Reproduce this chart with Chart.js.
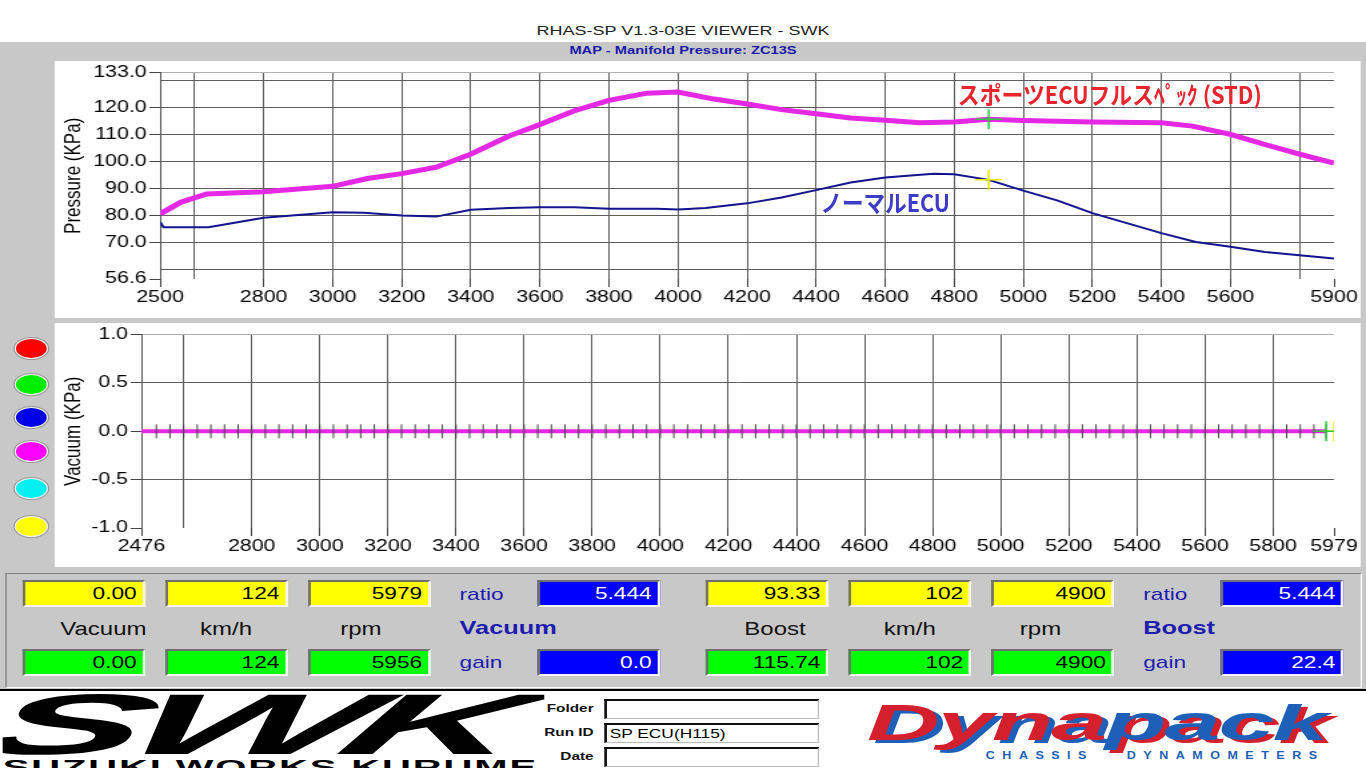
<!DOCTYPE html>
<html>
<head>
<meta charset="utf-8">
<title>RHAS-SP V1.3-03E VIEWER - SWK</title>
<script src="https://cdn.jsdelivr.net/npm/chart.js@4.4.1/dist/chart.umd.min.js"></script>
<style>
html, body { margin:0; padding:0; width:1366px; height:768px; overflow:hidden; background:#fff; }
/* the viewer was a 1024x768 screen stretched to 1366 wide */
#screen { position:absolute; left:0; top:0; width:1024px; height:768px; transform:scaleX(1.333984); transform-origin:0 0;
  font-family:"Liberation Sans", Arial, sans-serif; background:#fff; overflow:hidden; }
.abs { position:absolute; }
#appTitle { left:0; top:23px; width:1024px; text-align:center; font-size:13.5px; color:#222; }
#grayBand { left:0; top:42px; width:1024px; height:648px; background:#c8c8c8; }
#subTitle { left:0; top:44px; width:1024px; text-align:center; font-size:11px; font-weight:bold; color:#1a1aa8; }
.panel { background:#fff; }
.lamp { width:23px; height:19px; border-radius:50%; border:1px solid #f2f2f2; box-shadow:0 0 0 1px #9a9a9a; }
.note { white-space:nowrap; font-family:"Noto Sans CJK JP", sans-serif; font-weight:700; font-size:24px; line-height:26px; transform-origin:0 0; display:inline-block; }
#frame { left:4px; top:573px; width:1015px; height:113px; border:1px solid; border-color:#808080 #fff #fff #808080; }
.rd { width:84px; height:23px; line-height:24px; text-align:right; padding-right:4px; font-size:17px; color:#000;
  border:2px solid; border-color:#707070 #f4f4f4 #f4f4f4 #707070; }
.rd.blue { color:#fff; }
.lbl { font-size:18px; color:#111; text-align:center; width:90px; line-height:20px; }
.blab { font-size:17px; color:#1c1cb0; line-height:20px; }
.bhead { font-size:19px; font-weight:bold; color:#1c1cb0; line-height:22px; }
#rule { left:0; top:689px; width:1024px; height:2px; background:#000; }
.flab { font-size:11.5px; font-weight:bold; color:#111; text-align:right; width:60px; left:385px; }
.fbox { left:453px; width:156px; height:17px; background:#fff; border:1px solid; border-width:2px 1px 1px 2px;
  border-color:#111 #bbb #bbb #111; font-size:13px; line-height:17px; padding-left:2px; }
.fit { display:inline-block; white-space:nowrap; transform-origin:0 0; }
</style>
</head>
<body>
<div id="screen">
  <div id="appTitle" class="abs">RHAS-SP V1.3-03E VIEWER - SWK</div>
  <div id="grayBand" class="abs"></div>
  <div id="subTitle" class="abs">MAP - Manifold Pressure: ZC13S</div>

  <div class="abs panel" style="left:41px; top:61px; width:979px; height:257px;">
    <canvas id="pressureChart" width="979" height="257"></canvas>
  </div>
  <div class="abs panel" style="left:41px; top:323px; width:979px; height:244px;">
    <canvas id="vacuumChart" width="979" height="244"></canvas>
  </div>

  <div id="noteSport" class="abs note" style="left:718px; top:81px; color:#e8242c;"></div>
  <div id="noteNormal" class="abs note" style="left:615px; top:189px; color:#3c3cc8;"></div>

  <div id="lamps"></div>

  <div id="frame" class="abs"></div>
  <div id="readouts"></div>

  <div id="rule" class="abs"></div>

  <div class="abs" style="left:2px; top:683px; width:406px; height:85px; overflow:hidden;">
    <div id="swkBig" class="abs fit" style="left:10px; top:-8px; font-size:86px; font-weight:900; font-style:italic; letter-spacing:-6px; color:#000;">SWK</div>
    <div id="swkSmall" class="abs fit" style="left:0; top:72px; font-size:21px; font-weight:900; letter-spacing:1px; color:#000;">SUZUKI WORKS KURUME</div>
  </div>

  <div class="abs flab" style="top:702px;">Folder</div>
  <div class="abs flab" style="top:726px;">Run ID</div>
  <div class="abs flab" style="top:750px;">Date</div>
  <div class="abs fbox" style="top:699px;"></div>
  <div class="abs fbox" style="top:723px;">SP ECU(H115)</div>
  <div class="abs fbox" style="top:747px;"></div>

  <div id="dyna" class="abs fit" style="left:650px; top:696px; font-size:50px; font-weight:900; font-style:italic; letter-spacing:-1px; line-height:54px;">
    <span style="color:#d41f2c; text-shadow:3px 3px 0 #1e5fb8;">Dyna</span><span style="color:#1e5fb8; text-shadow:3px 3px 0 #d41f2c;">pack</span>
  </div>
  <div id="dynaSub" class="abs fit" style="left:739px; top:750px; font-size:10px; font-weight:900; letter-spacing:6px; color:#1e5fb8;">CHASSIS&nbsp;&nbsp;&nbsp;DYNAMOMETERS</div>
</div>

<script>
// MAP curves (rpm / KPa)
var sportRpm = [2500, 2560, 2635, 2800, 3000, 3100, 3200, 3300, 3400, 3510,
                3600, 3700, 3800, 3910, 4000, 4100, 4200, 4300, 4400, 4500,
                4600, 4700, 4800, 4900, 5000, 5200, 5400, 5490, 5600, 5700,
                5800, 5900];
var sportKpa = [80.7, 85.0, 88.1, 88.9, 90.9, 93.8, 95.6, 98.0, 102.8, 109.5,
                113.8, 118.9, 122.7, 125.4, 125.8, 123.3, 121.4, 119.3, 117.8, 116.2,
                115.4, 114.4, 114.7, 115.7, 115.3, 114.7, 114.4, 113.2, 110.1, 106.4,
                102.8, 99.5];

var normalRpm = [2500, 2510, 2640, 2800, 3000, 3090, 3200, 3300, 3400, 3510,
                 3600, 3700, 3800, 3940, 4000, 4080, 4200, 4300, 4400, 4500,
                 4600, 4740, 4800, 4900, 5000, 5100, 5200, 5300, 5400, 5500,
                 5600, 5700, 5800, 5900];
var normalKpa = [77.7, 75.8, 75.8, 79.3, 81.3, 81.1, 80.1, 79.7, 82.2, 82.9,
                 83.2, 83.2, 82.6, 82.6, 82.3, 82.9, 84.6, 86.8, 89.5, 92.3,
                 94.2, 95.6, 95.4, 93.3, 89.3, 85.6, 81.0, 77.3, 73.6, 70.3,
                 68.5, 66.6, 65.4, 64.2];

// vacuum trace (all zero)
var vacuumRpm = [2476, 2520, 2560, 2600, 2640, 2680, 2720, 2760, 2800, 2840, 2880,
                 2920, 2960, 3000, 3040, 3080, 3120, 3160, 3200, 3240, 3280, 3320,
                 3360, 3400, 3440, 3480, 3520, 3560, 3600, 3640, 3680, 3720, 3760,
                 3800, 3840, 3880, 3920, 3960, 4000, 4040, 4080, 4120, 4160, 4200,
                 4240, 4280, 4320, 4360, 4400, 4440, 4480, 4520, 4560, 4600, 4640,
                 4680, 4720, 4760, 4800, 4840, 4880, 4920, 4960, 5000, 5040, 5080,
                 5120, 5160, 5200, 5240, 5280, 5320, 5360, 5400, 5440, 5480, 5520,
                 5560, 5600, 5640, 5680, 5720, 5760, 5800, 5840, 5880, 5920, 5956];
var vacuumKpa = [0, 0, 0, 0, 0, 0, 0, 0, 0, 0, 0,
                 0, 0, 0, 0, 0, 0, 0, 0, 0, 0, 0,
                 0, 0, 0, 0, 0, 0, 0, 0, 0, 0, 0,
                 0, 0, 0, 0, 0, 0, 0, 0, 0, 0, 0,
                 0, 0, 0, 0, 0, 0, 0, 0, 0, 0, 0,
                 0, 0, 0, 0, 0, 0, 0, 0, 0, 0, 0,
                 0, 0, 0, 0, 0, 0, 0, 0, 0, 0, 0,
                 0, 0, 0, 0, 0, 0, 0, 0, 0, 0, 0];

// axis ticks and labels
var pressureXTicks  = [2500, 2600, 2800, 3000, 3200, 3400, 3600, 3800, 4000, 4200, 4400, 4600, 4800, 5000, 5200, 5400, 5600, 5800, 5900];
var pressureXLabels = ['2500', '', '2800', '3000', '3200', '3400', '3600', '3800', '4000', '4200', '4400', '4600', '4800', '5000', '5200', '5400', '5600', '', '5900'];
var pressureYTicks  = [56.6, 60, 70, 80, 90, 100, 110, 120, 130, 133];
var pressureYLabels = ['56.6', '', '70.0', '80.0', '90.0', '100.0', '110.0', '120.0', '', '133.0'];
var vacuumXTicks  = [2476, 2600, 2800, 3000, 3200, 3400, 3600, 3800, 4000, 4200, 4400, 4600, 4800, 5000, 5200, 5400, 5600, 5800, 5979];
var vacuumXLabels = ['2476', '', '2800', '3000', '3200', '3400', '3600', '3800', '4000', '4200', '4400', '4600', '4800', '5000', '5200', '5400', '5600', '5800', '5979'];
var vacuumYTicks  = [-1, -0.5, 0, 0.5, 1];
var vacuumYLabels = ['-1.0', '-0.5', '0.0', '0.5', '1.0'];

// readout panel: [value, km/h, rpm]
var vacuumYellow = ['0.00', '124', '5979'];
var vacuumGreen  = ['0.00', '124', '5956'];
var boostYellow  = ['93.33', '102', '4900'];
var boostGreen   = ['115.74', '102', '4900'];
var vacuumRatioGain = ['5.444', '0.0'];
var boostRatioGain  = ['5.444', '22.4'];

var sportName  = 'スポーツECUフルスﾍﾟｯｸ (STD)';
var normalName = 'ノーマルECU';
var lampColors = ['#ff0000', '#00ee00', '#0000e8', '#ff00ff', '#00f0f0', '#ffff00'];

function pairs(xs, ys) {
    return xs.map(function(x, i) { return { x: x, y: ys[i] }; });
}

var tickFont  = { family: 'Liberation Sans', size: 16 };
var titleFont = { family: 'Liberation Sans', size: 17 };
var NONE = 'rgba(0,0,0,0)';

function fixedTicks(values) {
    return function(scale) {
        scale.ticks = values.map(function(v) { return { value: v }; });
    };
}

function makeChart(id, cfg) {
    return new Chart(document.getElementById(id), {
        type: 'line',
        data: { datasets: cfg.datasets },
        options: {
            responsive: false,
            maintainAspectRatio: false,
            devicePixelRatio: 1,
            animation: false,
            layout: { padding: { top: 10, right: 20, left: 0, bottom: 0 } },
            plugins: { legend: { display: false }, tooltip: { enabled: false } },
            elements: { line: { tension: 0 } },
            scales: {
                x: {
                    type: 'linear', min: cfg.xTicks[0], max: cfg.xTicks[cfg.xTicks.length - 1],
                    afterBuildTicks: fixedTicks(cfg.xTicks),
                    afterFit: function(s) { s.height = 39; },
                    border: { display: false },
                    grid: {
                        color: function(c) { return c.index === cfg.xTicks.length - 1 ? NONE : '#5e5e5e'; },
                        tickColor: function(c) { return cfg.xLabels[c.index] === '' ? NONE : '#444'; },
                        tickLength: 8
                    },
                    ticks: {
                        autoSkip: false, maxRotation: 0, padding: 1, color: '#000', font: tickFont,
                        callback: function(v, i) { return cfg.xLabels[i]; }
                    }
                },
                y: {
                    type: 'linear', min: cfg.yTicks[0], max: cfg.yTicks[cfg.yTicks.length - 1],
                    afterBuildTicks: fixedTicks(cfg.yTicks),
                    afterFit: function(s) { s.width = cfg.yWidth; },
                    border: { display: true, color: '#555' },
                    grid: {
                        color: function(c) {
                            if (c.index === 0) return NONE;
                            if (c.index === cfg.yTicks.length - 1) return '#b0b0b0';
                            return '#5e5e5e';
                        },
                        tickColor: function(c) { return cfg.yLabels[c.index] === '' ? NONE : '#444'; },
                        tickLength: 8
                    },
                    title: { display: true, text: cfg.yTitle, color: '#000', font: titleFont, padding: { top: 4, bottom: 0 } },
                    ticks: {
                        autoSkip: false, padding: 2, color: '#000', font: tickFont,
                        callback: function(v, i) { return cfg.yLabels[i]; }
                    }
                }
            }
        }
    });
}

function cursor(x, y, color) {
    return {
        data: [{ x: Number(x), y: Number(y) }], showLine: false, order: -1,
        pointStyle: 'cross', pointRadius: 10, borderColor: color, borderWidth: 1.5
    };
}

makeChart('pressureChart', {
    xTicks: pressureXTicks, xLabels: pressureXLabels,
    yTicks: pressureYTicks, yLabels: pressureYLabels,
    yTitle: 'Pressure (KPa)', yWidth: 79,
    datasets: [
        { label: sportName, data: pairs(sportRpm, sportKpa), borderColor: '#e428e4', borderWidth: 5, pointRadius: 0 },
        { label: normalName, data: pairs(normalRpm, normalKpa), borderColor: '#14148e', borderWidth: 2, pointRadius: 0 },
        cursor(boostGreen[2], boostGreen[0], '#2ec83c'),
        cursor(boostYellow[2], boostYellow[0], '#e8e800')
    ]
});

makeChart('vacuumChart', {
    xTicks: vacuumXTicks, xLabels: vacuumXLabels,
    yTicks: vacuumYTicks, yLabels: vacuumYLabels,
    yTitle: 'Vacuum (KPa)', yWidth: 65,
    datasets: [
        {
            label: 'Vacuum', data: pairs(vacuumRpm, vacuumKpa), borderColor: '#e428e4', borderWidth: 4,
            pointStyle: 'line', pointRotation: 90,
            pointRadius: function(c) { return c.dataIndex === 0 ? 0 : 7; },
            pointBorderColor: '#444', pointBorderWidth: 1
        },
        cursor(vacuumGreen[2], vacuumGreen[0], '#2ec83c'),
        cursor(vacuumYellow[2], vacuumYellow[0], '#e8e800')
    ]
});

// annotations, lamps and readout panel
document.getElementById('noteSport').textContent = sportName;
document.getElementById('noteNormal').textContent = normalName;

var lampTops = [338, 374, 407, 441, 478, 516];
var lampBox = document.getElementById('lamps');
lampColors.forEach(function(c, i) {
    var d = document.createElement('div');
    d.className = 'abs lamp';
    d.style.left = '11px';
    d.style.top = lampTops[i] + 'px';
    d.style.background = c;
    lampBox.appendChild(d);
});

var panel = document.getElementById('readouts');
function put(html, cls, left, top, bg) {
    var d = document.createElement('div');
    d.className = 'abs ' + cls;
    d.style.left = left + 'px';
    d.style.top = top + 'px';
    if (bg) d.style.background = bg;
    d.innerHTML = html;
    panel.appendChild(d);
}

function group(x0, yellow, green, names, shifts, head, ratioGain) {
    for (var i = 0; i < 3; i++) {
        put(yellow[i], 'rd', x0 + i * 107, 580, '#ffff00');
        put(green[i], 'rd', x0 + i * 107, 649, '#00ff00');
        put(names[i], 'lbl', x0 + i * 107 + shifts[i], 619);
    }
    put('ratio', 'blab', x0 + 328, 585);
    put(head, 'bhead', x0 + 328, 617);
    put('gain', 'blab', x0 + 328, 653);
    put(ratioGain[0], 'rd blue', x0 + 386, 580, '#0000ff');
    put(ratioGain[1], 'rd blue', x0 + 386, 649, '#0000ff');
}
group(16.5, vacuumYellow, vacuumGreen, ['Vacuum', 'km/h', 'rpm'], [16, 1, -5], 'Vacuum', vacuumRatioGain);
group(529, boostYellow, boostGreen, ['Boost', 'km/h', 'rpm'], [7, 1, -8], 'Boost', boostRatioGain);

function fitWidth(id, target, extra) {
    var el = document.getElementById(id);
    el.style.transform = 'scaleX(' + (target / el.offsetWidth) + ')' + (extra || '');
}
fitWidth('noteSport', 228);
fitWidth('noteNormal', 97);
fitWidth('swkBig', 396, ' skewX(-12deg)');
fitWidth('swkSmall', 402);
fitWidth('dyna', 344);
fitWidth('dynaSub', 254);
</script>
</body>
</html>
